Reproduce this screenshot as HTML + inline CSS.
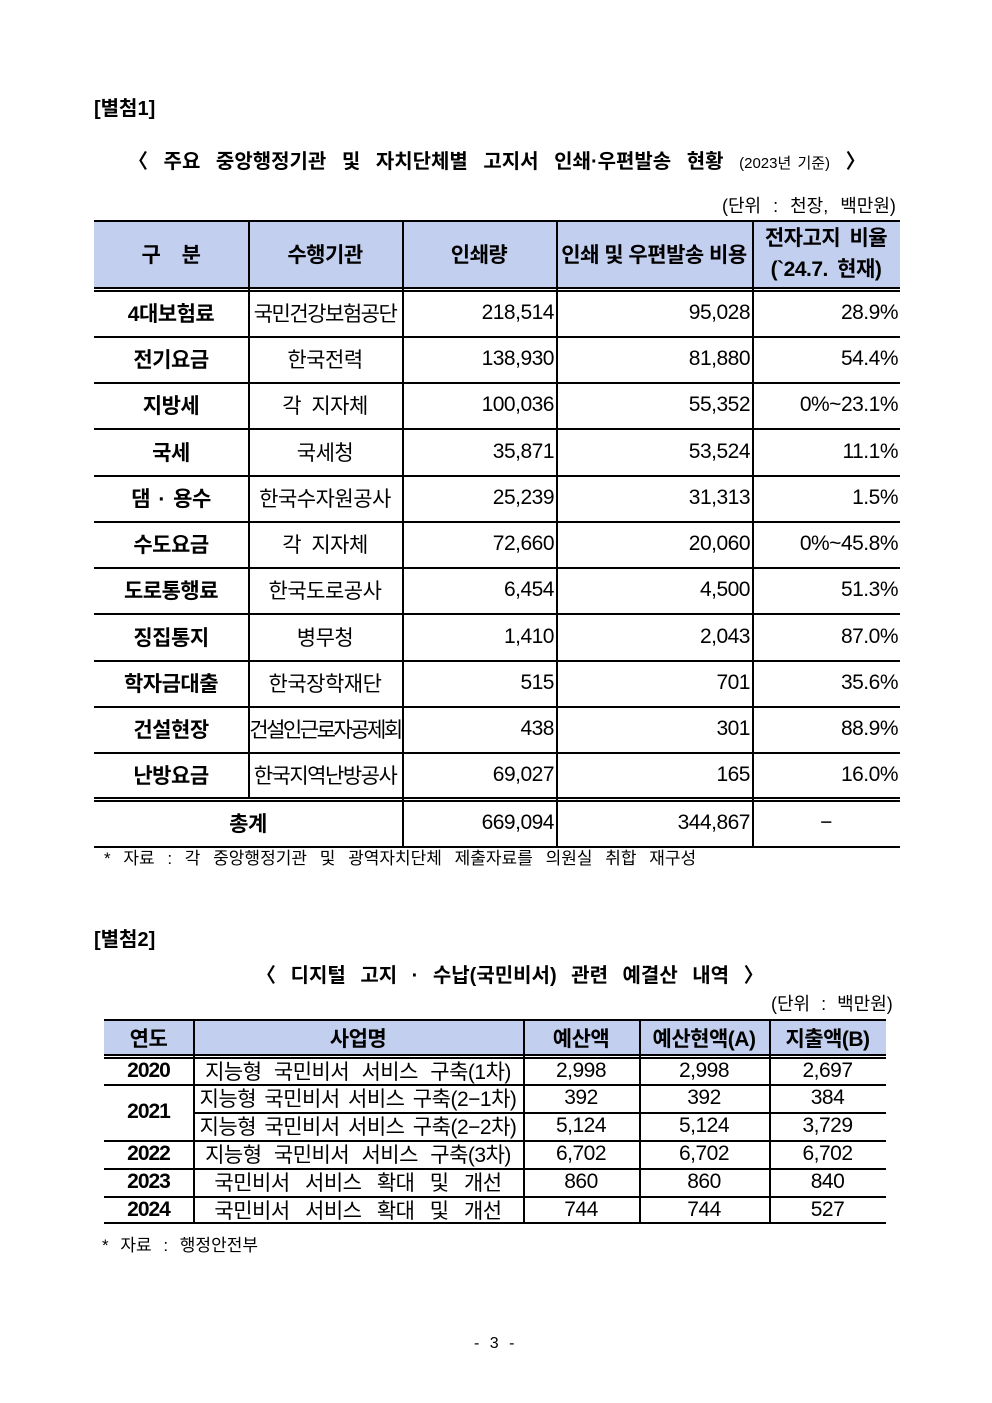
<!DOCTYPE html>
<html><head><meta charset="utf-8"><style>
body{margin:0;width:992px;height:1403px;background:#fff;position:relative;font-family:"Liberation Sans","Noto Sans CJK KR","NanumGothic",sans-serif;color:#000;overflow:hidden}
.a{position:absolute;white-space:nowrap}
.h{position:absolute;background:#000;height:1.5px}
.v{position:absolute;background:#000;width:1.5px}
.c{position:absolute;display:flex;align-items:center;justify-content:center;white-space:nowrap;font-size:21px;letter-spacing:-0.5px}
.r{justify-content:flex-end;padding-right:2px;box-sizing:border-box}
.b{font-weight:bold}
.w{word-spacing:7px}
.fill{position:absolute;background:#c3cfee}
</style></head><body>
<div class="a b" style="left:94px;top:92px;font-size:20px">[별첨1]</div>
<div class="a b" style="left:128px;top:145px;font-size:20px;word-spacing:10px">〈 주요 중앙행정기관 및 자치단체별 고지서 인쇄·우편발송 현황 <span style="font-weight:normal;font-size:15px;word-spacing:2px">(2023년 기준)</span> 〉</div>
<div class="a" style="left:722px;top:192px;font-size:18px;word-spacing:7px">(단위 : 천장, 백만원)</div>

<div class="fill" style="left:94px;top:221px;width:806px;height:66px"></div>
<div class="h" style="left:94px;top:220px;width:806px;height:2px"></div>
<div class="h" style="left:94px;top:287px;width:806px"></div>
<div class="h" style="left:94px;top:290px;width:806px"></div>
<div class="h" style="left:94px;top:336px;width:806px"></div>
<div class="h" style="left:94px;top:382px;width:806px"></div>
<div class="h" style="left:94px;top:428px;width:806px"></div>
<div class="h" style="left:94px;top:475px;width:806px"></div>
<div class="h" style="left:94px;top:521px;width:806px"></div>
<div class="h" style="left:94px;top:567px;width:806px"></div>
<div class="h" style="left:94px;top:613px;width:806px"></div>
<div class="h" style="left:94px;top:660px;width:806px"></div>
<div class="h" style="left:94px;top:706px;width:806px"></div>
<div class="h" style="left:94px;top:752px;width:806px"></div>
<div class="h" style="left:94px;top:797px;width:806px"></div>
<div class="h" style="left:94px;top:800px;width:806px"></div>
<div class="h" style="left:94px;top:846px;width:806px"></div>
<div class="v" style="left:248px;top:221px;height:577px"></div>
<div class="v" style="left:402px;top:221px;height:626px"></div>
<div class="v" style="left:556px;top:221px;height:626px"></div>
<div class="v" style="left:752px;top:221px;height:626px"></div>

<div class="c b" style="left:94px;top:221px;width:154px;height:66px">구&nbsp;&nbsp;&nbsp;&nbsp;분</div>
<div class="c b" style="left:248px;top:221px;width:154px;height:66px">수행기관</div>
<div class="c b" style="left:402px;top:221px;width:154px;height:66px">인쇄량</div>
<div class="c b" style="left:556px;top:221px;width:196px;height:66px">인쇄 및 우편발송 비용</div>
<div class="c b" style="left:752px;top:221px;width:148px;height:66px;line-height:31px;text-align:center;word-spacing:4px">전자고지 비율<br>(`24.7. 현재)</div>

<div class="c b" style="left:94px;top:290px;width:154px;height:46px">4대보험료</div><div class="c" style="left:248px;top:290px;width:154px;height:46px;letter-spacing:-1.5px">국민건강보험공단</div><div class="c r" style="left:402px;top:290px;width:154px;height:46px">218,514</div><div class="c r" style="left:556px;top:290px;width:196px;height:46px">95,028</div><div class="c r" style="left:752px;top:290px;width:148px;height:46px">28.9%</div>
<div class="c b" style="left:94px;top:336px;width:154px;height:46px">전기요금</div><div class="c" style="left:248px;top:336px;width:154px;height:46px">한국전력</div><div class="c r" style="left:402px;top:336px;width:154px;height:46px">138,930</div><div class="c r" style="left:556px;top:336px;width:196px;height:46px">81,880</div><div class="c r" style="left:752px;top:336px;width:148px;height:46px">54.4%</div>
<div class="c b" style="left:94px;top:382px;width:154px;height:46px">지방세</div><div class="c" style="left:248px;top:382px;width:154px;height:46px;word-spacing:5px">각 지자체</div><div class="c r" style="left:402px;top:382px;width:154px;height:46px">100,036</div><div class="c r" style="left:556px;top:382px;width:196px;height:46px">55,352</div><div class="c r" style="left:752px;top:382px;width:148px;height:46px">0%~23.1%</div>
<div class="c b" style="left:94px;top:428px;width:154px;height:47px">국세</div><div class="c" style="left:248px;top:428px;width:154px;height:47px">국세청</div><div class="c r" style="left:402px;top:428px;width:154px;height:47px">35,871</div><div class="c r" style="left:556px;top:428px;width:196px;height:47px">53,524</div><div class="c r" style="left:752px;top:428px;width:148px;height:47px">11.1%</div>
<div class="c b" style="left:94px;top:475px;width:154px;height:46px;word-spacing:3px">댐 · 용수</div><div class="c" style="left:248px;top:475px;width:154px;height:46px">한국수자원공사</div><div class="c r" style="left:402px;top:475px;width:154px;height:46px">25,239</div><div class="c r" style="left:556px;top:475px;width:196px;height:46px">31,313</div><div class="c r" style="left:752px;top:475px;width:148px;height:46px">1.5%</div>
<div class="c b" style="left:94px;top:521px;width:154px;height:46px">수도요금</div><div class="c" style="left:248px;top:521px;width:154px;height:46px;word-spacing:5px">각 지자체</div><div class="c r" style="left:402px;top:521px;width:154px;height:46px">72,660</div><div class="c r" style="left:556px;top:521px;width:196px;height:46px">20,060</div><div class="c r" style="left:752px;top:521px;width:148px;height:46px">0%~45.8%</div>
<div class="c b" style="left:94px;top:567px;width:154px;height:46px">도로통행료</div><div class="c" style="left:248px;top:567px;width:154px;height:46px">한국도로공사</div><div class="c r" style="left:402px;top:567px;width:154px;height:46px">6,454</div><div class="c r" style="left:556px;top:567px;width:196px;height:46px">4,500</div><div class="c r" style="left:752px;top:567px;width:148px;height:46px">51.3%</div>
<div class="c b" style="left:94px;top:613px;width:154px;height:47px">징집통지</div><div class="c" style="left:248px;top:613px;width:154px;height:47px">병무청</div><div class="c r" style="left:402px;top:613px;width:154px;height:47px">1,410</div><div class="c r" style="left:556px;top:613px;width:196px;height:47px">2,043</div><div class="c r" style="left:752px;top:613px;width:148px;height:47px">87.0%</div>
<div class="c b" style="left:94px;top:660px;width:154px;height:46px">학자금대출</div><div class="c" style="left:248px;top:660px;width:154px;height:46px">한국장학재단</div><div class="c r" style="left:402px;top:660px;width:154px;height:46px">515</div><div class="c r" style="left:556px;top:660px;width:196px;height:46px">701</div><div class="c r" style="left:752px;top:660px;width:148px;height:46px">35.6%</div>
<div class="c b" style="left:94px;top:706px;width:154px;height:46px">건설현장</div><div class="c" style="left:248px;top:706px;width:154px;height:46px;letter-spacing:-2.5px">건설인근로자공제회</div><div class="c r" style="left:402px;top:706px;width:154px;height:46px">438</div><div class="c r" style="left:556px;top:706px;width:196px;height:46px">301</div><div class="c r" style="left:752px;top:706px;width:148px;height:46px">88.9%</div>
<div class="c b" style="left:94px;top:752px;width:154px;height:46px">난방요금</div><div class="c" style="left:248px;top:752px;width:154px;height:46px;letter-spacing:-1.5px">한국지역난방공사</div><div class="c r" style="left:402px;top:752px;width:154px;height:46px">69,027</div><div class="c r" style="left:556px;top:752px;width:196px;height:46px">165</div><div class="c r" style="left:752px;top:752px;width:148px;height:46px">16.0%</div>
<div class="c b" style="left:94px;top:800px;width:308px;height:46px">총계</div><div class="c r" style="left:402px;top:800px;width:154px;height:46px">669,094</div><div class="c r" style="left:556px;top:800px;width:196px;height:46px">344,867</div><div class="c" style="left:752px;top:800px;width:148px;height:46px">−</div>
<div class="a" style="left:104px;top:844px;font-size:17px;word-spacing:8px">* 자료 : 각 중앙행정기관 및 광역자치단체 제출자료를 의원실 취합 재구성</div>

<div class="a b" style="left:94px;top:923px;font-size:20px">[별첨2]</div>
<div class="a b" style="left:256px;top:959px;font-size:20px;word-spacing:9px">〈 디지털 고지 · 수납(국민비서) 관련 예결산 내역 〉</div>
<div class="a" style="left:771px;top:990px;font-size:18px;word-spacing:6px">(단위 : 백만원)</div>

<div class="fill" style="left:104px;top:1021px;width:782px;height:33px"></div>
<div class="h" style="left:104px;top:1019px;width:782px;height:2px"></div>
<div class="h" style="left:104px;top:1054px;width:782px"></div>
<div class="h" style="left:104px;top:1057px;width:782px"></div>
<div class="h" style="left:104px;top:1084px;width:782px"></div>
<div class="h" style="left:193px;top:1112px;width:693px"></div>
<div class="h" style="left:104px;top:1140px;width:782px"></div>
<div class="h" style="left:104px;top:1168px;width:782px"></div>
<div class="h" style="left:104px;top:1196px;width:782px"></div>
<div class="h" style="left:104px;top:1222px;width:782px;height:2px"></div>
<div class="v" style="left:193px;top:1020px;height:203px"></div>
<div class="v" style="left:523px;top:1020px;height:203px"></div>
<div class="v" style="left:639px;top:1020px;height:203px"></div>
<div class="v" style="left:769px;top:1020px;height:203px"></div>

<div class="c b" style="left:104px;top:1021px;width:89px;height:33px">연도</div>
<div class="c b" style="left:193px;top:1021px;width:330px;height:33px">사업명</div>
<div class="c b" style="left:523px;top:1021px;width:116px;height:33px">예산액</div>
<div class="c b" style="left:639px;top:1021px;width:130px;height:33px">예산현액(A)</div>
<div class="c b" style="left:769px;top:1021px;width:117px;height:33px">지출액(B)</div>

<div class="c b" style="left:104px;top:1057px;width:89px;height:27px;letter-spacing:-1px">2020</div>
<div class="c b" style="left:104px;top:1084px;width:89px;height:56px;letter-spacing:-1px">2021</div>
<div class="c b" style="left:104px;top:1140px;width:89px;height:28px;letter-spacing:-1px">2022</div>
<div class="c b" style="left:104px;top:1168px;width:89px;height:28px;letter-spacing:-1px">2023</div>
<div class="c b" style="left:104px;top:1196px;width:89px;height:27px;letter-spacing:-1px">2024</div>

<div class="c w" style="left:193px;top:1057px;width:330px;height:27px">지능형 국민비서 서비스 구축(1차)</div>
<div class="c" style="left:193px;top:1084px;width:330px;height:28px;word-spacing:3px">지능형 국민비서 서비스 구축(2−1차)</div>
<div class="c" style="left:193px;top:1112px;width:330px;height:28px;word-spacing:3px">지능형 국민비서 서비스 구축(2−2차)</div>
<div class="c w" style="left:193px;top:1140px;width:330px;height:28px">지능형 국민비서 서비스 구축(3차)</div>
<div class="c" style="left:193px;top:1168px;width:330px;height:28px;word-spacing:10px">국민비서 서비스 확대 및 개선</div>
<div class="c" style="left:193px;top:1196px;width:330px;height:27px;word-spacing:10px">국민비서 서비스 확대 및 개선</div>

<div class="c" style="left:523px;top:1057px;width:116px;height:27px">2,998</div><div class="c" style="left:639px;top:1057px;width:130px;height:27px">2,998</div><div class="c" style="left:769px;top:1057px;width:117px;height:27px">2,697</div>
<div class="c" style="left:523px;top:1084px;width:116px;height:28px">392</div><div class="c" style="left:639px;top:1084px;width:130px;height:28px">392</div><div class="c" style="left:769px;top:1084px;width:117px;height:28px">384</div>
<div class="c" style="left:523px;top:1112px;width:116px;height:28px">5,124</div><div class="c" style="left:639px;top:1112px;width:130px;height:28px">5,124</div><div class="c" style="left:769px;top:1112px;width:117px;height:28px">3,729</div>
<div class="c" style="left:523px;top:1140px;width:116px;height:28px">6,702</div><div class="c" style="left:639px;top:1140px;width:130px;height:28px">6,702</div><div class="c" style="left:769px;top:1140px;width:117px;height:28px">6,702</div>
<div class="c" style="left:523px;top:1168px;width:116px;height:28px">860</div><div class="c" style="left:639px;top:1168px;width:130px;height:28px">860</div><div class="c" style="left:769px;top:1168px;width:117px;height:28px">840</div>
<div class="c" style="left:523px;top:1196px;width:116px;height:27px">744</div><div class="c" style="left:639px;top:1196px;width:130px;height:27px">744</div><div class="c" style="left:769px;top:1196px;width:117px;height:27px">527</div>

<div class="a" style="left:102px;top:1231px;font-size:17px;word-spacing:7px">* 자료 : 행정안전부</div>
<div class="a" style="left:474px;top:1335px;font-size:16px;word-spacing:6px">- 3 -</div>
</body></html>
